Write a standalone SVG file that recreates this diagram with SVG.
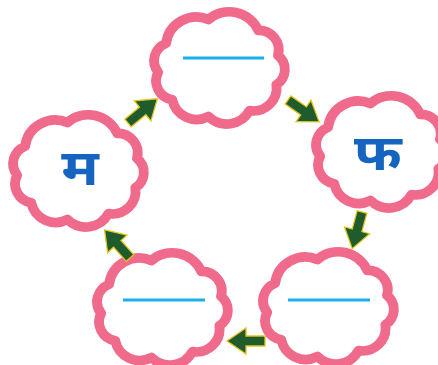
<svg xmlns="http://www.w3.org/2000/svg" xmlns:xlink="http://www.w3.org/1999/xlink" width="438" height="365" viewBox="0 0 438 365">
<style>
.cloud{fill:#fff;stroke:#f06b8b;stroke-width:9;vector-effect:non-scaling-stroke;stroke-linejoin:round}
.blank{stroke:#18b0ea;stroke-width:3}
.lbl{font-family:"Noto Sans Devanagari","Lohit Devanagari","FreeSans","Noto Sans",sans-serif;font-weight:bold;font-size:50px;fill:#1565c0;text-anchor:middle}
.arr{fill:#1e5b2d;stroke:#e8c21c;stroke-width:1.3;stroke-linejoin:miter}
</style>
<defs>
<path id="c" d="M-48.5,-23 A27.8,27.8 0 0 1 -9.7,-45.3 A29,29 0 0 1 36,-35.2 A18.3,18.3 0 0 1 54.1,-11.9 A17.1,17.1 0 0 1 52.6,15.7 A21.3,21.3 0 0 1 28,39.8 A23.6,23.6 0 0 1 -9.7,45.3 A22.8,22.8 0 0 1 -42.9,29.6 A17.8,17.8 0 0 1 -55.8,4 A17.4,17.4 0 0 1 -48.5,-23 Z"/>
<path id="a" d="M0,-5 H19 V-13 L38,0 L19,13 V5 H0 Z"/>
</defs>
<g id="node-top">
<use href="#c" class="cloud" transform="translate(219,68) scale(1.09,1.07)"/>
<line class="blank" x1="183" y1="58" x2="264" y2="58"/>
</g>
<g id="node-ma">
<use href="#c" class="cloud" transform="translate(78,171) scale(1.09,1.07)"/>
<text class="lbl" transform="translate(80,185) scale(1.15,1)">म</text>
</g>
<g id="node-pha">
<use href="#c" class="cloud" transform="translate(381,152) scale(1.09,1.07)"/>
<text class="lbl" transform="translate(378,170) scale(1.15,1)">फ</text>
</g>
<g id="node-bottom-right">
<use href="#c" class="cloud" transform="translate(328,308) scale(1.09,1.07)"/>
<line class="blank" x1="288" y1="300" x2="370" y2="300"/>
</g>
<g id="node-bottom-left">
<use href="#c" class="cloud" transform="translate(162,309) scale(1.09,1.07)"/>
<line class="blank" x1="123" y1="300" x2="205" y2="300"/>
</g>
<g id="connectors">
<use href="#a" class="arr" transform="translate(128,123) rotate(-39.5)"/>
<use href="#a" class="arr" transform="translate(288,100) rotate(35)"/>
<use href="#a" class="arr" transform="translate(362,212) rotate(105)"/>
<use href="#a" class="arr" transform="translate(265,341) rotate(180)"/>
<use href="#a" class="arr" transform="translate(130,258) rotate(228)"/>
</g>
</svg>
